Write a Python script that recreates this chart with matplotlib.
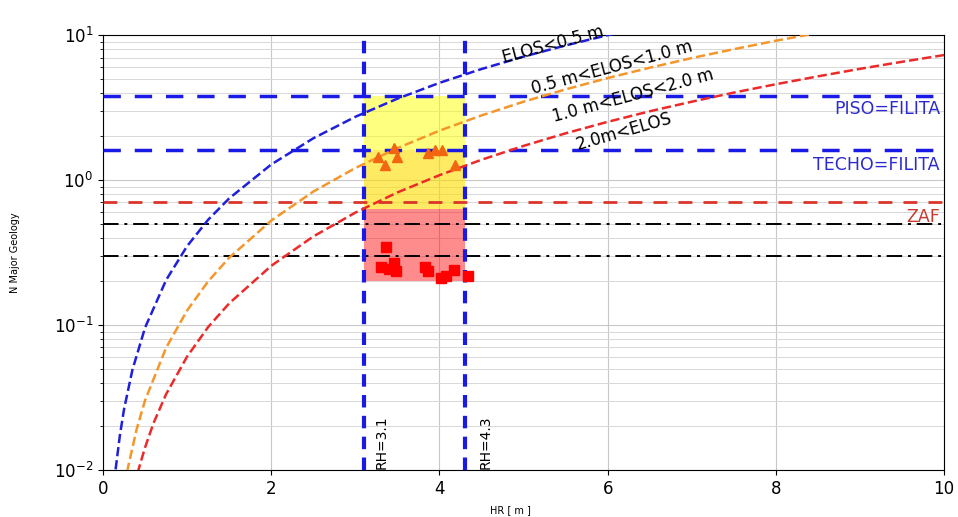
"""
ELOS stability chart: N Major Geology vs hydraulic radius HR.
"""

import numpy as np
import matplotlib
matplotlib.use("Agg")
import matplotlib.pyplot as plt

# ELOS design curves (HR [m], N)
elos_05_hr = [0.15, 0.2, 0.25, 0.35, 0.5, 0.75, 1.0, 1.25, 1.5, 2.0, 2.5, 3.0, 3.5, 4.0, 4.5, 5.0, 5.5, 6.0, 6.2]
elos_05_n = [0.0101, 0.0172, 0.0262, 0.0491, 0.0958, 0.204, 0.350, 0.532, 0.747, 1.28, 1.94, 2.73, 3.64, 4.68, 5.83, 7.10, 8.48, 9.98, 10.6]

elos_10_hr = [0.26, 0.3, 0.4, 0.5, 0.75, 1.0, 1.25, 1.5, 2.0, 2.5, 3.0, 3.5, 4.0, 4.5, 5.0, 5.5, 6.0, 6.5, 7.0, 7.5, 8.0, 8.5]
elos_10_n = [0.0079, 0.0106, 0.0191, 0.0302, 0.0696, 0.126, 0.200, 0.291, 0.525, 0.832, 1.21, 1.66, 2.19, 2.79, 3.47, 4.22, 5.05, 5.95, 6.94, 7.99, 9.14, 10.35]

elos_20_hr = [0.41, 0.5, 0.6, 0.75, 1.0, 1.25, 1.5, 2.0, 2.5, 3.0, 3.5, 4.0, 4.5, 5.0, 5.5, 6.0, 6.5, 7.0, 7.5, 8.0, 8.5, 9.0, 9.5, 10.0]
elos_20_n = [0.0095, 0.0143, 0.0210, 0.0333, 0.0606, 0.0968, 0.141, 0.256, 0.408, 0.596, 0.821, 1.08, 1.38, 1.72, 2.10, 2.52, 2.98, 3.47, 4.01, 4.58, 5.19, 5.85, 6.54, 7.28]

# Observed stopes: N in the intermediate zone (triangles) and below ZAF (squares)
tri_hr = [3.27, 3.35, 3.46, 3.49, 3.87, 3.95, 4.03, 4.19]
tri_n = [1.45, 1.27, 1.67, 1.45, 1.53, 1.61, 1.60, 1.27]

sq_hr = [3.36, 3.31, 3.40, 3.46, 3.48, 3.83, 3.87, 4.02, 4.08, 4.17, 4.34]
sq_n = [0.347, 0.250, 0.242, 0.266, 0.235, 0.252, 0.236, 0.212, 0.218, 0.240, 0.218]

# Reference levels
n_piso = 3.8
n_techo = 1.6
n_zaf = 0.7
n_black = [0.5, 0.3]
rh_min = 3.1
rh_max = 4.3
zone_low = 0.2
zone_mid = 0.63

fig = plt.figure(figsize=(9.58, 5.17), dpi=100)
ax = fig.add_axes([0.1075, 0.0909, 0.878, 0.8413])

ax.set_yscale("log")
ax.set_xlim(0, 10)
ax.set_ylim(1e-2, 1e1)

ax.grid(True, which="major", color="#c8c8c8", linewidth=0.8)
ax.grid(True, which="minor", color="#d8d8d8", linewidth=0.7)
ax.set_axisbelow(True)

# Shaded zones between the RH limits
ax.fill_between([rh_min, rh_max], zone_mid, n_piso, color="yellow", alpha=0.5, linewidth=0, zorder=1)
ax.fill_between([rh_min, rh_max], zone_mid, n_techo, color="orange", alpha=0.22, linewidth=0, zorder=1)
ax.fill_between([rh_min, rh_max], zone_low, zone_mid, color="red", alpha=0.45, linewidth=0, zorder=1)

# Horizontal reference lines
ax.axhline(n_piso, color="#1a1ae6", lw=2.5, ls=(0, (5, 4)), zorder=3)
ax.axhline(n_techo, color="#1a1ae6", lw=2.5, ls=(0, (5, 4)), zorder=3)
ax.axhline(n_zaf, color="#d9352a", lw=2, ls=(0, (5, 4)), zorder=3)
for n in n_black:
    ax.axhline(n, color="black", lw=1.4, ls=(0, (8, 3, 1.5, 3)), zorder=3)

# Vertical RH limits
ax.axvline(rh_min, color="#1a1ae6", lw=3, ls=(0, (3, 2)), zorder=4)
ax.axvline(rh_max, color="#1a1ae6", lw=3, ls=(0, (3, 2)), zorder=4)

# ELOS curves
ax.plot(elos_05_hr, elos_05_n, color="#1f1fdc", lw=1.8, ls="--", zorder=5)
ax.plot(elos_10_hr, elos_10_n, color="#f5962a", lw=1.8, ls="--", zorder=5)
ax.plot(elos_20_hr, elos_20_n, color="#ec2a2a", lw=1.8, ls="--", zorder=5)

ax.plot(tri_hr, tri_n, ls="none", marker="^", ms=7.5, color="#f26511", zorder=6)
ax.plot(sq_hr, sq_n, ls="none", marker="s", ms=7, color="red", zorder=6)

# Curve labels
ax.text(5.35, 8.6, "ELOS<0.5 m", rotation=15, ha="center", va="center", fontsize=12, zorder=7)
ax.text(6.05, 6.0, "0.5 m<ELOS<1.0 m", rotation=15, ha="center", va="center", fontsize=12, zorder=7)
ax.text(6.3, 3.8, "1.0 m<ELOS<2.0 m", rotation=15, ha="center", va="center", fontsize=12, zorder=7)
ax.text(6.2, 2.15, "2.0m<ELOS", rotation=16, ha="center", va="center", fontsize=12, zorder=7)

# Level labels on the right
ax.text(9.95, n_piso * 0.81, "PISO=FILITA", color="#2a2ad0", ha="right", va="center", fontsize=12.5)
ax.text(9.95, n_techo * 0.79, "TECHO=FILITA", color="#2a2ad0", ha="right", va="center", fontsize=12.5)
ax.text(9.95, n_zaf * 0.8, "ZAF", color="#c83a30", ha="right", va="center", fontsize=12.5)

ax.text(rh_min + 0.13, 0.0102, "RH=3.1", rotation=90, ha="left", va="bottom", fontsize=10)
ax.text(rh_max + 0.17, 0.0102, "RH=4.3", rotation=90, ha="left", va="bottom", fontsize=10)

ax.set_xticks([0, 2, 4, 6, 8, 10])
ax.tick_params(labelsize=12)
ax.set_xlabel("HR [ m ]", fontsize=7)
ax.set_ylabel("N Major Geology", fontsize=7)
ax.xaxis.set_label_coords(0.484, -0.08)
ax.yaxis.set_label_coords(-0.099, 0.5)

fig.savefig("out.png", dpi=100)
